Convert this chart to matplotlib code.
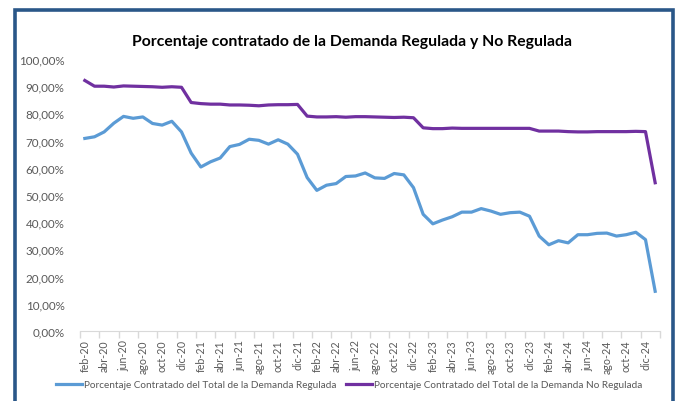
import numpy as np
import matplotlib
matplotlib.use('Agg')
import matplotlib.pyplot as plt
from matplotlib.patches import Rectangle

plt.rcParams['font.family'] = ['Lato', 'DejaVu Sans']

# month labels feb-20 .. ene-25
meses = ['ene', 'feb', 'mar', 'abr', 'may', 'jun', 'jul', 'ago', 'sep', 'oct', 'nov', 'dic']
fechas = []
for k in range(60):
    m = (1 + k) % 12
    a = 20 + (1 + k) // 12
    fechas.append('%s-%d' % (meses[m], a))

# Porcentaje contratado - demanda regulada (%)
regulada = [70.8, 71.4, 73.2, 76.4, 78.9, 78.2, 78.7, 76.3, 75.7, 77.1,
            73.2, 65.4, 60.3, 62.2, 63.6, 67.8, 68.6, 70.5, 70.1, 68.7,
            70.3, 68.7, 65.0, 56.4, 51.7, 53.6, 54.2, 56.8, 57.0, 58.1,
            56.3, 56.1, 57.9, 57.4, 52.7, 42.9, 39.4, 40.8, 42.0, 43.7,
            43.7, 45.0, 44.1, 42.9, 43.5, 43.7, 42.2, 34.9, 31.7, 33.2,
            32.4, 35.4, 35.4, 35.9, 36.0, 34.9, 35.4, 36.3, 33.6, 14.6]

# Porcentaje contratado - demanda no regulada (%)
no_regulada = [92.1, 90.0, 90.0, 89.7, 90.1, 90.0, 89.9, 89.8, 89.6, 89.8,
               89.6, 84.0, 83.6, 83.4, 83.4, 83.1, 83.1, 83.0, 82.8, 83.1,
               83.2, 83.2, 83.3, 79.0, 78.7, 78.7, 78.8, 78.6, 78.8, 78.8,
               78.7, 78.6, 78.5, 78.6, 78.4, 74.7, 74.4, 74.4, 74.6, 74.5,
               74.5, 74.5, 74.5, 74.5, 74.5, 74.5, 74.5, 73.5, 73.5, 73.5,
               73.3, 73.2, 73.2, 73.3, 73.3, 73.3, 73.3, 73.4, 73.3, 54.5]

x = np.arange(len(fechas))
gris = '#595959'

fig = plt.figure(figsize=(6.81, 4.02), dpi=100)
ax = fig.add_axes([80 / 681, 1 - 332 / 402, 580 / 681, 272 / 402])

ax.plot(x, regulada, color='#5B9BD5', lw=2.3, solid_joinstyle='round',
        label='Porcentaje Contratado del Total de la Demanda Regulada')
ax.plot(x, no_regulada, color='#7030A0', lw=2.3, solid_joinstyle='round',
        label='Porcentaje Contratado del Total de la Demanda No Regulada')

ax.set_xlim(-0.5, len(fechas) - 0.5)
ax.set_ylim(0, 100)
ax.set_yticks(np.arange(0, 101, 10))
ax.set_yticklabels(['%d,00%%' % v for v in range(0, 101, 10)], fontsize=8.4, color=gris)
ax.tick_params(axis='y', length=0, pad=11)

# ticks between every two categories, labels on first of each pair
ax.set_xticks(np.arange(-0.5, len(fechas), 2))
ax.set_xticklabels([])
ax.set_xticks(x[::2], minor=True)
ax.set_xticklabels(fechas[::2], minor=True, rotation=90, fontsize=7.7, color=gris)
ax.tick_params(axis='x', which='major', length=5, color='#D9D9D9', width=1)
ax.tick_params(axis='x', which='minor', length=0, pad=6)

for s in ['top', 'right', 'left']:
    ax.spines[s].set_visible(False)
ax.spines['bottom'].set_color('#D9D9D9')

fig.text(352 / 681, 1 - 42 / 402, 'Porcentaje contratado de la Demanda Regulada y No Regulada',
         ha='center', va='center', fontsize=11.3, fontweight='bold', color='black')

fig.legend(loc='center', bbox_to_anchor=(349 / 681, 1 - 386 / 402), ncol=2, frameon=False,
           fontsize=7.2, labelcolor=gris, handlelength=2.6, columnspacing=0.9, handletextpad=0.2)

# dark frame around the chart
fig.patches.append(Rectangle((14.5 / 681, -0.05), 658 / 681, 1.05 - 11 / 402,
                             transform=fig.transFigure, fill=False,
                             edgecolor='#2A5788', lw=2.6))

fig.savefig('out.png', dpi=100)
